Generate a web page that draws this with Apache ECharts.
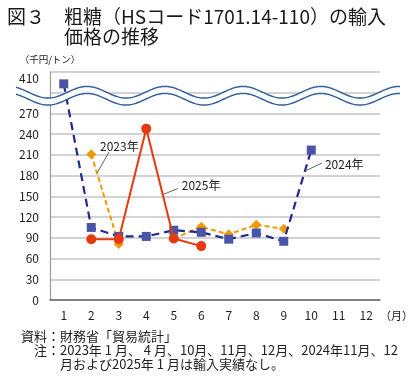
<!DOCTYPE html>
<html>
<head>
<meta charset="utf-8">
<script src="https://cdn.jsdelivr.net/npm/echarts@6/dist/echarts.min.js"></script>
<style>
  html, body { margin: 0; padding: 0; background: #fff; }
  #chart { width: 420px; height: 377px; }
</style>
</head>
<body>
<div id="chart"></div>
<script>
// 月（カテゴリ）
var months = ["1", "2", "3", "4", "5", "6", "7", "8", "9", "10", "11", "12"];
// 輸入価格（千円/トン）
var price2023 = [null, 211, 81, null, 89, 106, 95, 109, 103, null, null, null];
var price2024 = [370, 105, 92, 92, 101, 98, 88, 97, 85, 217, null, null];
var price2025 = [null, 88, 88, 248, 89, 78, null, null, null, null, null, null];
// y軸目盛（300は省略、最上段は410）
var yTicks = [0, 30, 60, 90, 120, 150, 180, 210, 240, 270, 300, 330];
var yTickLabels = ["0", "30", "60", "90", "120", "150", "180", "210", "240", "270", "", "410"];

var FONT = "'Noto Sans CJK JP', 'Noto Sans', sans-serif";

// 270を超える値は省略区間に縮めて表示（270→270, 410→330）
function toAxis(v) {
  if (v == null) return null;
  if (v <= 270) return v;
  return 270 + (v - 270) * 60 / 140;
}

var chart = echarts.init(document.getElementById("chart"));

var option = {
  animation: false,
  textStyle: { fontFamily: FONT },
  grid: { left: 50, right: 40, top: 72, bottom: 77 },
  xAxis: {
    type: "category",
    data: months,
    boundaryGap: true,
    name: "（月）",
    nameLocation: "end",
    nameGap: 0,
    nameTextStyle: { fontSize: 11, color: "#222", verticalAlign: "top", padding: [10, 0, 0, 0], fontFamily: FONT },
    axisLine: { lineStyle: { color: "#666", width: 1.5 } },
    axisTick: { show: false },
    axisLabel: { fontSize: 12, color: "#222", margin: 9, fontFamily: FONT }
  },
  yAxis: {
    type: "value",
    min: 0,
    max: 330,
    interval: 30,
    name: "（千円/トン）",
    nameLocation: "end",
    nameGap: 8,
    nameTextStyle: { fontSize: 9.5, color: "#222", align: "center", fontFamily: FONT },
    axisLine: { show: true, lineStyle: { color: "#999", width: 1.2 } },
    axisTick: { show: false },
    axisLabel: {
      fontSize: 12,
      color: "#222",
      margin: 11,
      fontFamily: FONT,
      formatter: function (v) {
        var i = yTicks.indexOf(v);
        if (i < 0) return "";
        return v === 330 ? "{top|" + yTickLabels[i] + "}" : yTickLabels[i];
      },
      rich: { top: { fontSize: 12, color: "#222", padding: [12, 0, 0, 0], fontFamily: FONT } }
    },
    splitLine: { lineStyle: { color: "#c4c4c4", width: 1.5 } }
  },
  title: [
    {
      text: "図３　粗糖（HSコード1701.14-110）の輸入",
      left: 2, top: 2,
      textStyle: { fontSize: 19, fontWeight: "normal", color: "#1a1a1a", fontFamily: FONT }
    },
    {
      text: "価格の推移",
      left: 59, top: 22,
      textStyle: { fontSize: 19, fontWeight: "normal", color: "#1a1a1a", fontFamily: FONT }
    }
  ],
  series: [
    {
      name: "2023年",
      type: "line",
      data: price2023.map(toAxis),
      symbol: "diamond",
      symbolSize: 10,
      connectNulls: false,
      lineStyle: { color: "#f39800", width: 2, type: [5, 3] },
      itemStyle: { color: "#f39800" },
      z: 2
    },
    {
      name: "2024年",
      type: "line",
      data: price2024.map(toAxis),
      symbol: "rect",
      symbolSize: 9,
      connectNulls: false,
      lineStyle: { color: "#1e2a8c", width: 2.2, type: [8, 5] },
      itemStyle: { color: "#4a55a8" },
      z: 3
    },
    {
      name: "2025年",
      type: "line",
      data: price2025.map(toAxis),
      symbol: "circle",
      symbolSize: 10,
      connectNulls: false,
      lineStyle: { color: "#e8380d", width: 2 },
      itemStyle: { color: "#e8380d" },
      z: 4
    }
  ]
};

chart.setOption(option);

// 系列名の注記（線上の位置は各系列の2点間から求める）
var notes = [
  { series: 0, data: price2023, from: 1, t: 0.21, text: "2023年", tx: 3, ty: -27, lx: 12, ly: -21 },
  { series: 2, data: price2025, from: 3, t: 0.6, text: "2025年", tx: 19, ty: -9, lx: 15, ly: -6 },
  { series: 1, data: price2024, from: 8, t: 0.77, text: "2024年", tx: 20, ty: -7, lx: 17, ly: -8 }
];

var graphics = [];
notes.forEach(function (n) {
  var a = chart.convertToPixel({ seriesIndex: n.series }, [n.from, toAxis(n.data[n.from])]);
  var b = chart.convertToPixel({ seriesIndex: n.series }, [n.from + 1, toAxis(n.data[n.from + 1])]);
  var px = a[0] + (b[0] - a[0]) * n.t;
  var py = a[1] + (b[1] - a[1]) * n.t;
  graphics.push({
    type: "line",
    shape: { x1: px + n.lx, y1: py + n.ly, x2: px, y2: py },
    style: { stroke: "#666", lineWidth: 1 },
    z: 10
  });
  graphics.push({
    type: "text",
    x: px + n.tx,
    y: py + n.ty,
    style: { text: n.text, fill: "#222", font: "12px " + FONT, textVerticalAlign: "middle" },
    z: 10
  });
});

// 省略の波線
var yc = chart.convertToPixel({ yAxisIndex: 0 }, 300);
var upper = [], lower = [];
for (var x = 16; x <= 400; x += 2) {
  var w = -5.8 * Math.cos(2 * Math.PI * (x - 87) / 78);
  upper.push([x, yc - 0.5 + w]);
  lower.push([x, yc + 6.5 + w]);
}
graphics.push({
  type: "polygon",
  shape: { points: upper.concat(lower.slice().reverse()) },
  style: { fill: "#fff" },
  z: 20
});
graphics.push({ type: "polyline", shape: { points: upper }, style: { stroke: "#34609c", lineWidth: 1.5, fill: null }, z: 21 });
graphics.push({ type: "polyline", shape: { points: lower }, style: { stroke: "#34609c", lineWidth: 1.5, fill: null }, z: 21 });

// 出所・注
var footer = [
  { text: "資料：財務省「貿易統計」", x: 21, y: 336 },
  { text: "注：2023年 1 月、 4 月、10月、11月、12月、2024年11月、12", x: 34, y: 350 },
  { text: "月および2025年 1 月は輸入実績なし。", x: 60, y: 364 }
];
footer.forEach(function (f) {
  graphics.push({
    type: "text",
    x: f.x,
    y: f.y,
    style: { text: f.text, fill: "#222", font: "13px " + FONT, textVerticalAlign: "middle" },
    z: 10
  });
});

chart.setOption({ graphic: graphics });
</script>
</body>
</html>
